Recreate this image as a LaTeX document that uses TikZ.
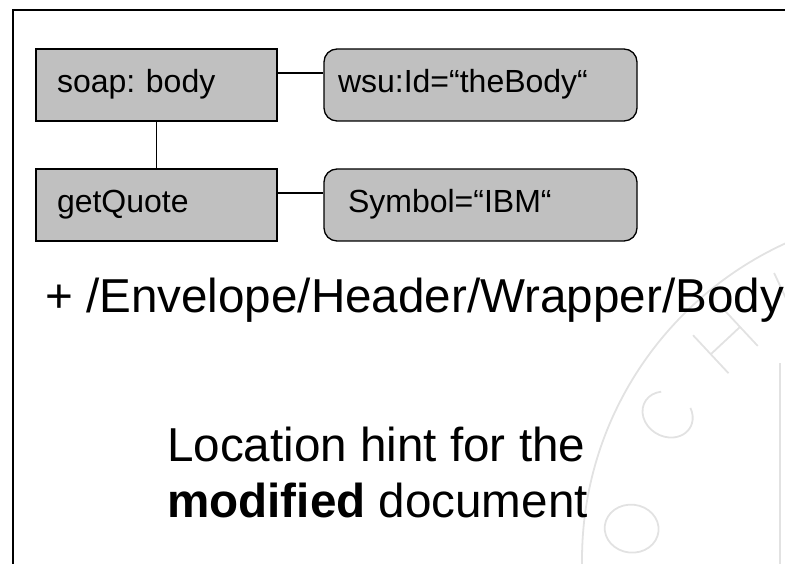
\documentclass[tikz,border=0pt]{standalone}
\usepackage{fontspec}
\setmainfont{Liberation Sans}
\definecolor{boxgray}{HTML}{C0C0C0}
\definecolor{sealgray}{HTML}{E2E2E2}
\begin{document}
\frenchspacing
\begin{tikzpicture}[x=1pt,y=1pt,
  box/.style={draw=black, line width=1.3pt, fill=boxgray, minimum height=72pt,
    inner ysep=0pt, text height=23pt, text depth=7pt, align=left,
    font=\fontsize{32}{38}\selectfont},
  sq/.style={box, inner xsep=21pt, text width=199pt},
  rbox/.style={box, rounded corners=13pt},
  link/.style={draw=black, line width=1.3pt},
  big/.style={font=\fontsize{47.6}{56}\selectfont, anchor=base west, inner sep=0pt},
  seal/.style={draw=sealgray, line width=1.8pt},
  frame/.style={draw=black, line width=2pt}
]
\useasboundingbox (0,0) rectangle (785,564);
% watermark seal
\begin{scope}
  \clip (0,0) rectangle (785,564);
  \draw[seal] (930,4) circle (348);
  \draw[seal] (780,0) -- (780,201);
  \begin{scope}[shift={(930,4)}]
    \draw[seal, shift={(174:300)}, rotate=84] (0,0) ellipse (24 and 27);
    \draw[seal, shift={(151:300)}, rotate=61] (40:22 and 26)
      arc[start angle=40, end angle=320, x radius=22, y radius=26];
    \draw[seal, shift={(133:300)}, rotate=43]
      (-20,-26) -- (-20,26) (20,-26) -- (20,26) (-20,0) -- (20,0);
    \draw[seal, shift={(115:300)}, rotate=25]
      (-20,26) -- (-20,-6) arc[start angle=180, end angle=360, radius=20] -- (20,26);
  \end{scope}
\end{scope}
% frame
\draw[frame] (12.5,0) -- (12.5,554) -- (785,554);
% boxes
\node[sq] (soap) at (156.5,479) {soap: body};
\node[sq] (quote) at (156.5,359) {getQuote};
\node[rbox, inner xsep=14pt, text width=285pt] (wsu) at (480.5,479) {wsu:Id=“theBody“};
\node[rbox, inner xsep=24pt, text width=265pt] (sym) at (480.5,359) {Symbol=“IBM“};
% connectors
\draw[link] ([yshift=12pt]soap.east) -- ([yshift=12pt]wsu.west);
\draw[link] ([yshift=12pt]quote.east) -- ([yshift=12pt]sym.west);
\draw[link] (soap.south) -- (quote.north);
% texts
\node[big] (path) at (45,251) {+ /Envelope/Header/Wrapper/Body};
\node[big] (hint1) at (167,102) {Location hint for the};
\node[big] (hint2) at (167,46) {\textbf{modified} document};
\end{tikzpicture}
\end{document}
